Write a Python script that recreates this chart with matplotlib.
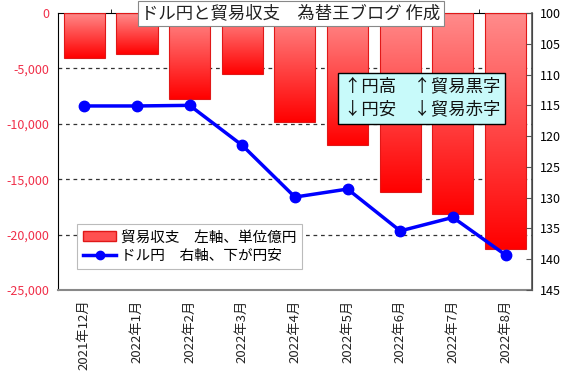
import numpy as np
import matplotlib
matplotlib.use('Agg')
import matplotlib.pyplot as plt
from matplotlib.colors import LinearSegmentedColormap
from matplotlib.patches import Rectangle
from matplotlib.lines import Line2D
from matplotlib.ticker import FuncFormatter

plt.rcParams['font.family'] = ['Noto Sans CJK JP', 'DejaVu Sans']

# data
months = ['2021年12月', '2022年1月', '2022年2月', '2022年3月', '2022年4月',
          '2022年5月', '2022年6月', '2022年7月', '2022年8月']
trade_balance = [-4070, -3680, -7720, -5490, -9850, -11880, -16130, -18150, -21340]  # 億円
usdjpy = [115.1, 115.1, 115.0, 121.5, 129.9, 128.6, 135.4, 133.2, 139.3]

fig = plt.figure(figsize=(5.67, 3.72), dpi=100)
ax = fig.add_axes([0.1023, 0.2204, 0.8357, 0.7446])
ax2 = ax.twinx()

x = np.arange(len(months))
w = 0.78
cmap = LinearSegmentedColormap.from_list('redgrad', ['#ff8c8c', '#ff0000'])
grad = np.linspace(0, 1, 256).reshape(-1, 1)

# gradient bars
for xi, v in zip(x, trade_balance):
    rect = Rectangle((xi - w / 2, v), w, -v, facecolor='none',
                     edgecolor='#e01818', linewidth=0.8, zorder=3)
    ax.add_patch(rect)
    im = ax.imshow(grad, cmap=cmap, aspect='auto', zorder=2,
                   extent=[xi - w / 2, xi + w / 2, v, 0], origin='upper')
    im.set_clip_path(rect)

ax.set_xlim(-0.5, len(months) - 0.5)
ax.set_ylim(-25000, 0)
ax.set_yticks(np.arange(-25000, 1, 5000))
ax.yaxis.set_major_formatter(FuncFormatter(lambda v, p: f'{v:,.0f}'))
for g in [-5000, -10000, -15000, -20000]:
    ax.axhline(g, color='#333333', linestyle=(0, (3, 3)), linewidth=0.9, zorder=1)

ax.set_xticks(x)
ax.set_xticklabels(months, rotation=90, fontsize=9.5, color='#222222')
ax.set_xticks(np.arange(0.5, len(months) - 1, 1), minor=True)
ax.tick_params(axis='x', which='major', length=0, pad=7)
ax.tick_params(axis='x', which='minor', bottom=False, top=True, direction='out', length=3)
ax.tick_params(axis='y', length=0, labelsize=9, labelcolor='#f0304a', pad=6)

ax.spines['top'].set_color('black')
ax.spines['left'].set_color('black')
ax.spines['bottom'].set_color('#888888')
ax.spines['bottom'].set_linewidth(1.5)

# USD/JPY line on right axis (inverted)
ax2.plot(x, usdjpy, color='#0000ff', linewidth=2.5, marker='o', markersize=7.5, zorder=5)
ax2.set_ylim(145, 100)
ax2.set_yticks(np.arange(100, 146, 5))
ax2.tick_params(axis='y', direction='in', length=4, labelsize=9, color='#555555', pad=6)
ax2.spines['right'].set_color('#555555')
ax2.spines['right'].set_linewidth(1.2)
for s in ['top', 'left', 'bottom']:
    ax2.spines[s].set_visible(False)

handles = [Rectangle((0, 0), 1, 1, facecolor='#ff5050', edgecolor='#e01818'),
           Line2D([], [], color='#0000ff', linewidth=2.5, marker='o', markersize=6)]
labels = ['貿易収支\u3000左軸、単位億円', 'ドル円\u3000右軸、下が円安']
leg = ax2.legend(handles, labels, loc='lower left', bbox_to_anchor=(0.04, 0.075),
                 borderaxespad=0, fontsize=10.5, frameon=True, fancybox=False, framealpha=1,
                 edgecolor='#bbbbbb', handlelength=2.3, handletextpad=0.3,
                 borderpad=0.4, labelspacing=0.35)
leg.get_frame().set_linewidth(0.8)

fig.text(0.513, 0.963, 'ドル円と貿易収支\u3000為替王ブログ 作成', ha='center', va='center',
         fontsize=12.5, color='#222222', zorder=10,
         bbox=dict(boxstyle='square,pad=0.2', facecolor='white', edgecolor='#888888', linewidth=0.8))

fig.text(0.744, 0.736, '↑円高\u3000↑貿易黒字\n↓円安\u3000↓貿易赤字', ha='center', va='center',
         fontsize=12.5, linespacing=1.35, color='#111111', zorder=10,
         bbox=dict(boxstyle='square,pad=0.3', facecolor='#c8fafa', edgecolor='black', linewidth=1))

fig.savefig('out.png', dpi=100)
